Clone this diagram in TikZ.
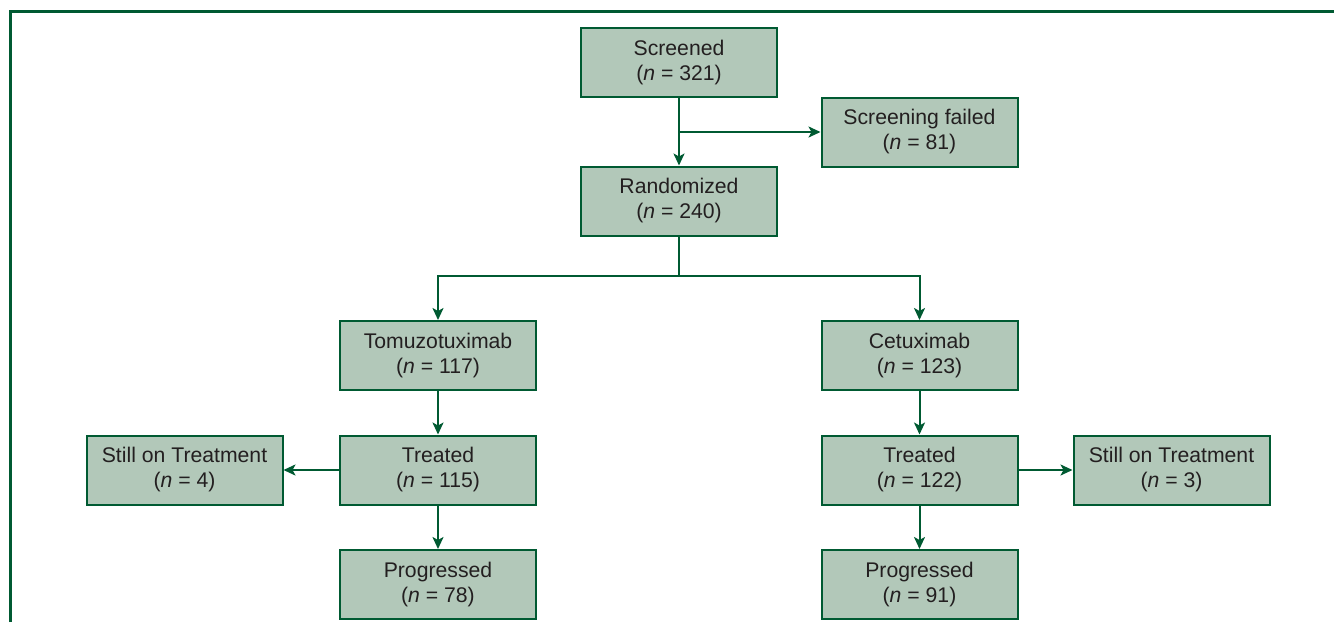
\documentclass[tikz,border=0pt]{standalone}
\usepackage{fontspec}
\setmainfont{Liberation Sans}
\usetikzlibrary{arrows.meta}
\definecolor{FrameGreen}{RGB}{0, 90, 50}
\definecolor{BoxFill}{RGB}{178, 200, 185}
\definecolor{TextGray}{RGB}{35, 31, 32}

\begin{document}
\begin{tikzpicture}[x=0.5pt, y=-0.5pt,
    box/.style={draw=FrameGreen, fill=BoxFill, line width=1pt,
      minimum width=98pt, minimum height=34.5pt, inner sep=0pt,
      align=center, text=TextGray, font=\fontsize{10.6}{12.5}\selectfont},
    arr/.style={draw=FrameGreen, line width=1pt,
      -{Stealth[length=6pt, width=5.5pt, inset=1.5pt]}},
    ln/.style={draw=FrameGreen, line width=1pt}]
  \useasboundingbox (0,0) rectangle (1334,622);

  % Frame
  \draw[FrameGreen, line width=1.5pt] (10,622) -- (10,11) -- (1334,11);

  % Top
  \node[box] (screened) at (679, 62.5) {Screened\\(\textit{n} = 321)};
  \node[box] (failed) at (919.5, 132) {Screening failed\\(\textit{n} = 81)};
  \node[box] (randomized) at (679, 201) {Randomized\\(\textit{n} = 240)};

  % Arms
  \node[box] (tomuzo) at (438, 355.5) {Tomuzotuximab\\(\textit{n} = 117)};
  \node[box] (cetux) at (919.5, 355.5) {Cetuximab\\(\textit{n} = 123)};

  \node[box] (treatedL) at (438, 470) {Treated\\(\textit{n} = 115)};
  \node[box] (treatedR) at (919.5, 470) {Treated\\(\textit{n} = 122)};
  \node[box] (stillL) at (184.5, 470) {Still on Treatment\\(\textit{n} = 4)};
  \node[box] (stillR) at (1171.5, 470) {Still on Treatment\\(\textit{n} = 3)};

  \node[box] (progL) at (438, 584.5) {Progressed\\(\textit{n} = 78)};
  \node[box] (progR) at (919.5, 584.5) {Progressed\\(\textit{n} = 91)};

  % Connectors
  \draw[arr] (screened) -- (randomized);
  \draw[arr] (screened.south |- failed.west) -- (failed.west);

  \coordinate (split) at (679, 276);
  \draw[ln] (randomized) -- (split);
  \draw[arr] (split) -| (tomuzo);
  \draw[arr] (split) -| (cetux);

  \draw[arr] (tomuzo) -- (treatedL);
  \draw[arr] (cetux) -- (treatedR);
  \draw[arr] (treatedL) -- (stillL);
  \draw[arr] (treatedR) -- (stillR);
  \draw[arr] (treatedL) -- (progL);
  \draw[arr] (treatedR) -- (progR);
\end{tikzpicture}
\end{document}
